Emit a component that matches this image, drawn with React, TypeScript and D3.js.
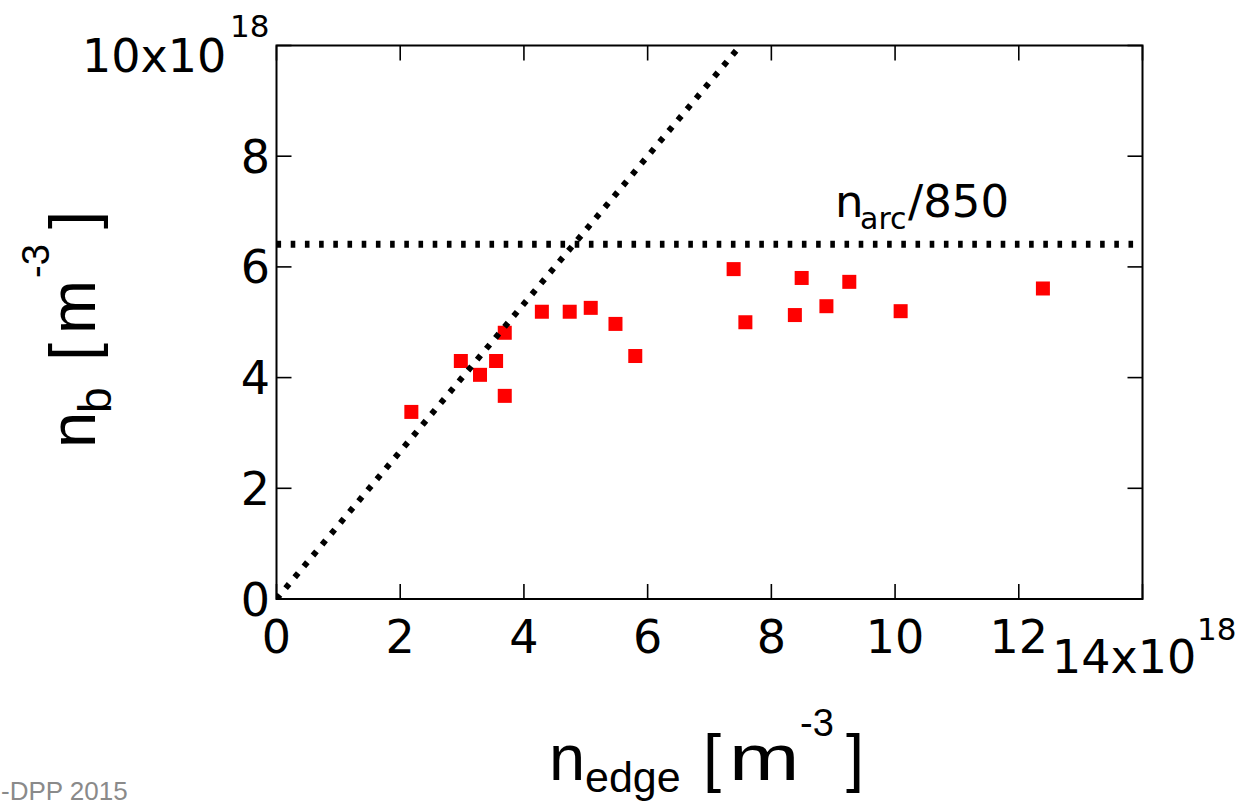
import React from "react";
import * as d3 from "d3";

// ---- data (units of 10^18 m^-3) ----
const nEdge = [2.18, 2.98, 3.29, 3.55, 3.69, 3.69, 4.29, 4.74, 5.08, 5.48, 5.8, 7.39, 7.58, 8.49, 8.38, 8.89, 9.26, 10.09, 12.39];
const nB = [3.38, 4.3, 4.05, 4.3, 4.81, 3.67, 5.19, 5.19, 5.26, 4.97, 4.39, 5.96, 5.0, 5.8, 5.13, 5.29, 5.73, 5.2, 5.61];
const xTickValues = [0, 2, 4, 6, 8, 10, 12, 14];
const yTickValues = [0, 2, 4, 6, 8, 10];
const xTickLabels = ["0", "2", "4", "6", "8", "10", "12"];
const yTickLabels = ["0", "2", "4", "6", "8"];
const arcLimit = 6.41; // n_arc / 850
const equalitySlope = 4 / 3;
const xDomain = [0, 14];
const yDomain = [0, 10];

const TICK_FONT = "'DejaVu Sans', sans-serif";
const LABEL_FONT = "'Liberation Sans', Arial, sans-serif";

export default function App() {
  const x = d3.scaleLinear().domain(xDomain).range([276.5, 1142.5]);
  const y = d3.scaleLinear().domain(yDomain).range([599, 45.5]);
  const [x0, x1] = x.range();
  const [y0, y1] = y.range();
  const tickLen = 15;

  const line = d3
    .line<[number, number]>()
    .x((d) => x(d[0]))
    .y((d) => y(d[1]));

  const diag: [number, number][] = [
    [0, 0],
    [yDomain[1] / equalitySlope, yDomain[1]],
  ];
  const horiz: [number, number][] = [
    [xDomain[0], arcLimit],
    [xDomain[1], arcLimit],
  ];

  const ms = 14;

  return (
    <svg
      width={1239}
      height={806}
      style={{ position: "absolute", left: 0, top: 0, background: "#fff" }}
    >
      <defs>
        <clipPath id="plotClip">
          <rect x={x0} y={y1} width={x1 - x0} height={y0 - y1} />
        </clipPath>
      </defs>
      <rect x={0} y={0} width={1239} height={806} fill="#fff" />

      {/* markers */}
      <g>
        {nEdge.map((v, i) => (
          <rect
            key={i}
            x={x(v) - ms / 2}
            y={y(nB[i]) - ms / 2}
            width={ms}
            height={ms}
            fill="#ff0000"
          />
        ))}
      </g>

      {/* reference lines */}
      <g clipPath="url(#plotClip)">
        <path
          d={line(diag) || ""}
          fill="none"
          stroke="#000"
          strokeWidth={6}
          strokeDasharray="5.4 8.8"
        />
        <path
          d={line(horiz) || ""}
          fill="none"
          stroke="#000"
          strokeWidth={7}
          strokeDasharray="4.6 9.6"
        />
      </g>

      {/* axes box */}
      <rect x={x0} y={y1} width={x1 - x0} height={y0 - y1} fill="none" stroke="#000" strokeWidth={2} />

      {/* ticks */}
      <g stroke="#000" strokeWidth={1.6}>
        {xTickValues.map((t) => (
          <g key={"xt" + t}>
            <line x1={x(t)} x2={x(t)} y1={y0} y2={y0 - tickLen} />
            <line x1={x(t)} x2={x(t)} y1={y1} y2={y1 + tickLen} />
          </g>
        ))}
        {yTickValues.map((t) => (
          <g key={"yt" + t}>
            <line x1={x0} x2={x0 + tickLen} y1={y(t)} y2={y(t)} />
            <line x1={x1} x2={x1 - tickLen} y1={y(t)} y2={y(t)} />
          </g>
        ))}
      </g>

      {/* tick labels */}
      <g fontFamily={TICK_FONT} fontSize={46} fill="#000">
        {xTickLabels.map((l, i) => (
          <text key={"xl" + i} x={x(xTickValues[i])} y={653} textAnchor="middle">
            {l}
          </text>
        ))}
        {yTickLabels.map((l, i) => (
          <text key={"yl" + i} x={270} y={y(yTickValues[i]) + 16.5} textAnchor="end">
            {l}
          </text>
        ))}
        {/* exponent labels */}
        <text x={82} y={71.5}>10x10</text>
        <text x={230} y={36.5} fontSize={31}>18</text>
        <text x={1052} y={673}>14x10</text>
        <text x={1197} y={640} fontSize={31}>18</text>
      </g>

      {/* n_arc/850 annotation */}
      <text fontFamily={TICK_FONT} fontSize={45} fill="#000" y={217}>
        <tspan x={835}>n</tspan>
        <tspan x={860} y={229} fontSize={30}>arc</tspan>
        <tspan x={908} y={217}>/850</tspan>
      </text>

      {/* x axis label */}
      <g fontFamily={LABEL_FONT} fill="#000">
        <text x={549} y={780} fontSize={65}>n</text>
        <text x={585} y={792} fontSize={43}>edge</text>
        <text x={703} y={780} fontSize={65}>[</text>
        <text transform="translate(729,780) scale(1.3,1)" fontSize={65}>m</text>
        <text x={800} y={736} fontSize={38}>-3</text>
        <text x={846} y={780} fontSize={65}>]</text>
      </g>

      {/* y axis label (rotated) */}
      <g fontFamily={LABEL_FONT} fill="#000">
        <text transform="translate(95,448) rotate(-90)" fontSize={65}>n</text>
        <text transform="translate(111,413) rotate(-90)" fontSize={46}>b</text>
        <text transform="translate(95,361) rotate(-90)" fontSize={65}>[</text>
        <text transform="translate(95,334) rotate(-90)" fontSize={65}>m</text>
        <text transform="translate(49,278) rotate(-90)" fontSize={38}>-3</text>
        <text transform="translate(95,229) rotate(-90)" fontSize={65}>]</text>
      </g>

      {/* footer */}
      <text x={1} y={800} fontFamily={LABEL_FONT} fontSize={26} fill="#8a8a8a">
        -DPP 2015
      </text>
    </svg>
  );
}
